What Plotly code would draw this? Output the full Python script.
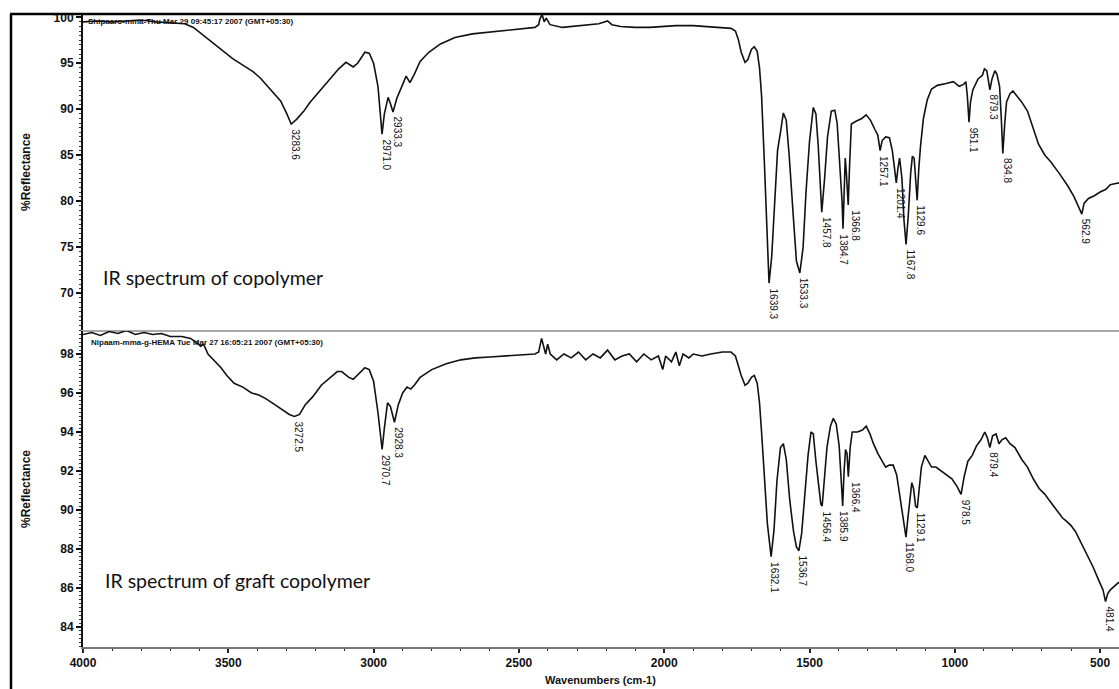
import plotly.graph_objects as go

# ---------------- data ----------------
top_wn = [4000, 3950, 3900, 3850, 3800, 3750, 3700, 3650, 3620, 3600, 3560, 3520, 3485, 3450, 3415, 3390,
          3367, 3340, 3320, 3300, 3283.6, 3265, 3240, 3220, 3185, 3150, 3120, 3095, 3070, 3055, 3030, 3015,
          3000, 2985, 2976, 2971.0, 2963, 2950, 2942, 2933.3, 2920, 2905, 2888, 2875, 2860, 2840, 2810, 2770,
          2720, 2660, 2600, 2530, 2480, 2445, 2432, 2428, 2420, 2413, 2406, 2393, 2350, 2290, 2225, 2195,
          2180, 2150, 2100, 2050, 2000, 1960, 1900, 1850, 1800, 1770, 1755, 1745, 1735, 1722, 1712, 1700,
          1690, 1680, 1672, 1665, 1655, 1645, 1639.3, 1630, 1620, 1610, 1600, 1590, 1580, 1570, 1555, 1545,
          1533.3, 1522, 1512, 1500, 1487, 1478, 1470, 1463, 1457.8, 1448, 1438, 1425, 1413, 1405, 1395, 1388,
          1384.7, 1381, 1377, 1373, 1366.8, 1362, 1356, 1340, 1320, 1305, 1290, 1275, 1265, 1257.1, 1250, 1238,
          1225, 1215, 1205, 1201.4, 1196, 1190, 1182, 1175, 1167.8, 1160, 1152, 1146, 1140, 1134, 1129.6, 1124,
          1118, 1108, 1095, 1080, 1060, 1030, 1005, 985, 970, 962, 957, 951.1, 946, 938, 920, 905,
          898, 890, 884, 879.3, 872, 862, 855, 846, 840, 834.8, 828, 822, 810, 800, 785, 770,
          750, 730, 712, 690, 670, 640, 610, 590, 575, 562.9, 555, 540, 520, 500, 480, 465, 450, 435]
top_t = [99.5, 99.6, 99.5, 99.6, 99.7, 99.5, 99.4, 99.3, 98.9, 98.4, 97.4, 96.4, 95.5, 94.8, 94.1, 93.4,
         92.6, 91.6, 90.9, 89.6, 88.4, 88.9, 89.8, 90.7, 92.0, 93.2, 94.4, 95.1, 94.6, 95.0, 96.2, 96.1,
         95.0, 92.5, 89.0, 87.3, 89.5, 91.3, 90.6, 89.7, 91.2, 92.4, 93.6, 92.9, 93.8, 95.2, 96.2, 97.1,
         97.8, 98.2, 98.4, 98.6, 98.8, 98.9, 99.2, 99.8, 100.3, 99.5, 99.9, 99.2, 98.9, 99.1, 99.3, 99.6,
         99.2, 99.0, 98.9, 98.9, 99.0, 99.1, 99.1, 99.0, 98.9, 98.8, 98.5, 97.6, 96.2, 95.1, 95.4, 96.5,
         96.8, 96.3, 94.5, 91.5, 84.0, 75.0, 71.1, 74.0, 80.0, 85.5, 87.5, 89.6, 88.8, 85.0, 78.0, 73.5,
         72.2, 75.0, 81.0, 86.5, 90.2, 89.5, 86.0, 81.0, 78.8, 82.5, 87.0, 89.8, 89.9, 88.5, 84.0, 80.0,
         77.0, 80.0, 84.7, 83.0, 79.6, 84.0, 88.4, 88.7, 89.0, 89.4, 88.8, 87.8, 87.2, 85.5, 86.6, 87.0,
         86.9, 85.5, 82.5, 82.0, 83.5, 84.7, 82.5, 78.0, 75.3, 78.5, 83.0, 84.9, 84.7, 81.5, 80.1, 83.5,
         86.0, 89.0, 91.0, 92.2, 92.6, 92.8, 93.0, 92.5, 92.7, 93.0, 91.5, 88.6, 90.8, 92.1, 93.3, 93.7,
         94.4, 94.2, 93.0, 92.1, 93.3, 94.2, 93.8, 92.5, 89.0, 85.2, 88.5, 90.8, 91.7, 92.0, 91.4, 90.8,
         89.8, 88.0, 86.2, 85.0, 84.3, 83.0, 81.6, 80.5, 79.5, 78.6, 79.8, 80.3, 80.6, 81.0, 81.3, 81.8, 81.9, 82.0]

bot_wn = [4000, 3970, 3940, 3910, 3880, 3850, 3820, 3790, 3760, 3730, 3700, 3660, 3630, 3610, 3595, 3585,
          3570, 3550, 3525, 3505, 3480, 3450, 3420, 3395, 3370, 3340, 3310, 3290, 3272.5, 3255, 3235, 3210,
          3180, 3150, 3125, 3110, 3085, 3070, 3050, 3030, 3015, 3000, 2985, 2975, 2970.7, 2963, 2952, 2942,
          2928.3, 2915, 2900, 2885, 2872, 2860, 2840, 2800, 2750, 2700, 2650, 2600, 2550, 2500, 2470, 2445,
          2432, 2422, 2415, 2408, 2401, 2392, 2370, 2345, 2320, 2295, 2270, 2245, 2220, 2195, 2170, 2145,
          2120, 2095, 2070, 2045, 2020, 2005, 1995, 1975, 1960, 1948, 1935, 1915, 1900, 1870, 1840, 1800,
          1770, 1755, 1745, 1735, 1722, 1712, 1700, 1690, 1680, 1672, 1665, 1655, 1645, 1632.1, 1622, 1612,
          1600, 1590, 1580, 1568, 1555, 1545, 1536.7, 1527, 1515, 1505, 1495, 1487, 1478, 1468, 1461, 1456.4,
          1448, 1440, 1428, 1418, 1408, 1398, 1392, 1385.9, 1381, 1376, 1371, 1366.4, 1360, 1353, 1335, 1318,
          1305, 1292, 1280, 1265, 1250, 1238, 1225, 1212, 1200, 1192, 1182, 1172, 1168.0, 1162, 1155, 1148,
          1142, 1135, 1129.1, 1123, 1115, 1103, 1095, 1080, 1065, 1048, 1030, 1010, 992, 978.5, 968, 955,
          940, 925, 910, 897, 888, 879.4, 870, 858, 848, 838, 825, 810, 793, 770, 750, 730,
          710, 690, 670, 650, 630, 614, 600, 585, 565, 545, 525, 505, 490, 481.4, 474, 465, 450, 435]
bot_t = [99.0, 99.1, 98.95, 99.15, 99.05, 99.2, 99.0, 99.1, 99.0, 99.05, 98.9, 98.9, 98.8, 98.6, 98.4, 98.5,
         98.0, 97.7, 97.3, 96.9, 96.5, 96.3, 96.0, 95.9, 95.7, 95.4, 95.1, 94.9, 94.8, 94.9, 95.4, 95.8,
         96.4, 96.8, 97.1, 97.1, 96.8, 96.7, 97.0, 97.3, 97.2, 96.6, 95.0, 93.6, 93.1, 94.2, 95.5, 95.3,
         94.5, 95.4, 96.0, 96.3, 96.2, 96.4, 96.8, 97.2, 97.5, 97.7, 97.8, 97.85, 97.9, 97.95, 98.0, 98.0,
         98.1, 98.8, 98.4, 98.0, 98.5, 98.0, 97.7, 98.0, 97.8, 98.1, 97.7, 98.0, 97.8, 98.2, 97.7, 97.9,
         98.0, 97.6, 98.0, 97.7, 97.9, 97.2, 97.9, 97.6, 98.1, 97.4, 98.0, 97.8, 98.0, 97.9, 98.0, 98.1,
         98.1, 97.9, 97.4, 96.9, 96.4, 96.5, 96.8, 96.9, 96.5, 95.5, 94.0, 91.8, 89.3, 87.6, 89.0, 91.5,
         93.2, 93.4, 92.6, 90.5, 88.9, 88.1, 87.9, 88.8, 91.0, 92.8, 94.0, 93.9, 92.5, 91.0, 90.3, 90.2,
         91.7, 93.2, 94.3, 94.7, 94.4, 93.3, 91.8, 90.2, 92.0, 93.1, 92.9, 91.7, 93.2, 94.0, 94.0, 94.1,
         94.3, 93.9, 93.4, 92.9, 92.5, 92.2, 92.3, 92.3, 91.8, 91.0, 89.8, 88.9, 88.6, 89.5, 90.6, 91.4,
         91.1, 90.2, 90.1, 91.2, 92.2, 92.8, 92.6, 92.2, 92.2, 92.0, 91.8, 91.6, 91.2, 90.8, 91.7, 92.5,
         92.8, 93.3, 93.6, 94.0, 93.7, 93.2, 93.8, 93.9, 93.4, 93.6, 93.7, 93.4, 93.2, 92.6, 92.2, 91.6,
         91.1, 90.8, 90.4, 90.0, 89.6, 89.4, 89.2, 88.9, 88.3, 87.7, 87.1, 86.4, 85.9, 85.3, 85.7, 85.9, 86.1, 86.3]

top_peaks = [3283.6, 2971.0, 2933.3, 1639.3, 1533.3, 1457.8, 1384.7, 1366.8, 1257.1, 1201.4,
             1167.8, 1129.6, 951.1, 879.3, 834.8, 562.9]
bot_peaks = [3272.5, 2970.7, 2928.3, 1632.1, 1536.7, 1456.4, 1385.9, 1366.4, 1168.0, 1129.1,
             978.5, 879.4, 481.4]

top_header = "Shipaaro-mma-Thu Mar 29 09:45:17 2007 (GMT+05:30)"
bot_header = "Nipaam-mma-g-HEMA Tue Mar 27 16:05:21 2007 (GMT+05:30)"

# ---------------- figure ----------------
W, H = 1119, 689
L, R, T, B = 83, 0, 15, 42
PW, PH = W - L - R, H - T - B

def px_x(px):
    return (px - L) / PW

def px_y(py):
    return (H - B - py) / PH

fig = go.Figure()
line = dict(color="#111111", width=1.6)
fig.add_trace(go.Scatter(x=top_wn, y=top_t, mode="lines", line=line, xaxis="x", yaxis="y",
                         hoverinfo="skip"))
fig.add_trace(go.Scatter(x=bot_wn, y=bot_t, mode="lines", line=line, xaxis="x2", yaxis="y2",
                         hoverinfo="skip"))

tickfont = dict(family="Arial, Liberation Sans", size=12, color="#111111", weight="bold")
xr = [4000, 435]

fig.update_layout(
    width=W, height=H, margin=dict(l=L, r=R, t=T, b=B),
    paper_bgcolor="white", plot_bgcolor="white", showlegend=False,
    xaxis=dict(domain=[0, 1], anchor="y", range=xr, showticklabels=False, ticks="",
               showline=True, linecolor="#a8a8a8", linewidth=2, showgrid=False, zeroline=False),
    yaxis=dict(domain=[px_y(330), 1], anchor="x", range=[66.0, 100.25], tickmode="linear",
               tick0=0, dtick=5, ticks="outside", ticklen=5, tickwidth=1.5, tickcolor="#111",
               showline=True, linecolor="#111", linewidth=2, showgrid=False, zeroline=False,
               tickfont=tickfont,
               minor=dict(ticks="outside", ticklen=2, tickwidth=1, tickcolor="#333", dtick=0.5,
                          tick0=0, showgrid=False)),
    xaxis2=dict(domain=[0, 1], anchor="y2", range=xr, tickmode="linear", tick0=0, dtick=500,
                ticks="outside", ticklen=4, tickwidth=1.5, tickcolor="#222",
                showline=True, linecolor="#777", linewidth=2, showgrid=False, zeroline=False,
                tickfont=tickfont,
                minor=dict(ticks="outside", ticklen=2, tickwidth=1.2, tickcolor="#222", dtick=100,
                           tick0=0, showgrid=False)),
    yaxis2=dict(domain=[0, px_y(331)], anchor="x2", range=[82.97, 99.18], tickmode="linear",
                tick0=0, dtick=2, ticks="outside", ticklen=5, tickwidth=1.5, tickcolor="#111",
                showline=True, linecolor="#111", linewidth=2, showgrid=False, zeroline=False,
                tickfont=tickfont,
                minor=dict(ticks="outside", ticklen=2, tickwidth=1, tickcolor="#333", dtick=0.2,
                           tick0=0, showgrid=False)),
)

# outer black frame (top and left edges)
fig.add_shape(type="line", xref="paper", yref="paper", x0=px_x(10), x1=1.02,
              y0=px_y(14), y1=px_y(14), line=dict(color="black", width=2.5))
fig.add_shape(type="line", xref="paper", yref="paper", x0=px_x(11), x1=px_x(11),
              y0=px_y(14), y1=px_y(700), line=dict(color="black", width=2.5))

ann = []
lab_font = dict(family="Arial, Liberation Sans", size=12, color="#111", weight="bold")
ann.append(dict(text="%Reflectance", xref="paper", yref="paper", x=px_x(26), y=px_y(172),
                textangle=-90, showarrow=False, font=lab_font, xanchor="center", yanchor="middle"))
ann.append(dict(text="%Reflectance", xref="paper", yref="paper", x=px_x(26), y=px_y(489),
                textangle=-90, showarrow=False, font=lab_font, xanchor="center", yanchor="middle"))
ann.append(dict(text="Wavenumbers (cm-1)", xref="paper", yref="paper", x=px_x(600), y=px_y(680),
                showarrow=False, font=dict(family="Arial, Liberation Sans", size=11, color="#111",
                                           weight="bold"),
                xanchor="center", yanchor="middle"))
hdr_font = dict(family="Arial, Liberation Sans", size=8, color="#111", weight="bold")
ann.append(dict(text=top_header, xref="paper", yref="paper", x=px_x(86), y=px_y(21),
                showarrow=False, font=hdr_font, xanchor="left", yanchor="middle"))
ann.append(dict(text=bot_header, xref="paper", yref="paper", x=px_x(89), y=px_y(342),
                showarrow=False, font=hdr_font, xanchor="left", yanchor="middle"))
ir_font = dict(family="Lato, Open Sans", size=19.5, color="#111")
ann.append(dict(text="IR spectrum of copolymer", xref="paper", yref="paper", x=px_x(101),
                y=px_y(277), showarrow=False, font=ir_font, xanchor="left", yanchor="middle"))
ann.append(dict(text="IR spectrum of graft copolymer", xref="paper", yref="paper", x=px_x(103),
                y=px_y(580), showarrow=False, font=ir_font, xanchor="left", yanchor="middle"))

pk_font = dict(family="Arial, Liberation Sans", size=10, color="#111")
top_lookup = dict(zip(top_wn, top_t))
bot_lookup = dict(zip(bot_wn, bot_t))
shift_x = {1384.7: 1, 1366.8: 7, 1385.9: 1, 1366.4: 7}
for wn in top_peaks:
    ann.append(dict(text=f"{wn:.1f}", x=wn, y=top_lookup[wn], xref="x", yref="y", textangle=90,
                    showarrow=False, font=pk_font, xanchor="center", yanchor="top",
                    xshift=shift_x.get(wn, 4), yshift=-3))
for wn in bot_peaks:
    ann.append(dict(text=f"{wn:.1f}", x=wn, y=bot_lookup[wn], xref="x2", yref="y2", textangle=90,
                    showarrow=False, font=pk_font, xanchor="center", yanchor="top",
                    xshift=shift_x.get(wn, 4), yshift=-3))
fig.update_layout(annotations=ann)

fig.write_html("out.html")
